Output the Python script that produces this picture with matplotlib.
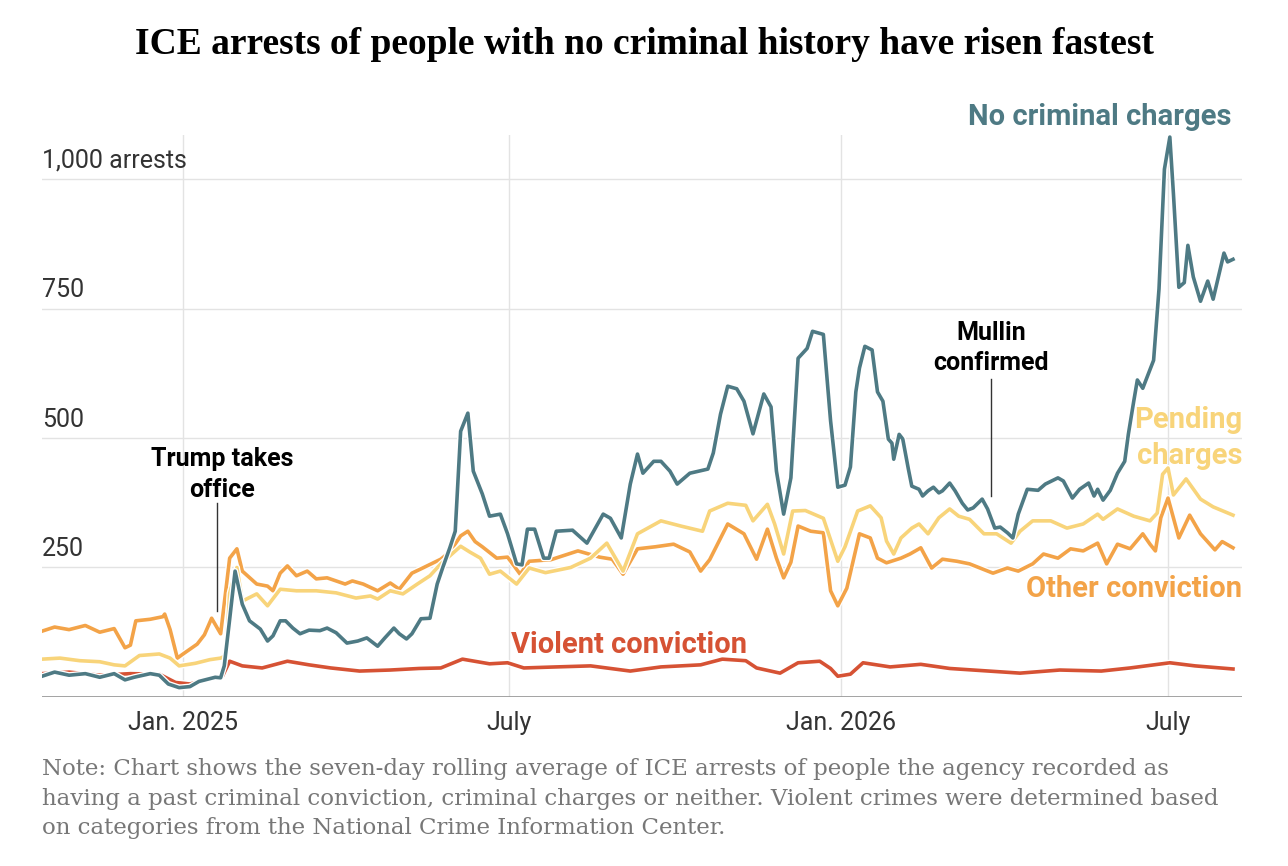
import pandas as pd
import matplotlib.pyplot as plt
import matplotlib.patheffects as pe

# days are counted from 2025-01-01
teal_day = [-78, -71, -63, -54, -46, -38, -32, -27, -18, -13, -8, -2, 4, 9, 18, 21, 23, 26, 29, 33,
            37, 43, 47, 50, 54, 57, 61, 65, 70, 76, 80, 85, 91, 97, 102, 108, 112, 117, 120, 124,
            127, 132, 137, 141, 144, 148, 151, 154, 158, 161, 166, 170, 176, 180, 185, 188, 191, 195, 200, 203,
            207, 216, 224, 233, 237, 243, 248, 252, 255, 261, 265, 270, 274, 281, 291, 294, 298, 302, 307, 311,
            316, 322, 326, 329, 333, 337, 341, 346, 349, 355, 359, 363, 367, 370, 373, 375, 378, 382, 385, 388,
            391, 393, 394, 397, 399, 402, 404, 408, 410, 413, 416, 419, 421, 425, 428, 432, 435, 438, 443, 446,
            450, 453, 457, 460, 463, 468, 474, 478, 485, 488, 493, 497, 502, 505, 507, 510, 514, 518, 522, 524,
            527, 529, 532, 538, 541, 544, 547, 549, 552, 555, 557, 560, 564, 568, 571, 577, 579, 582]
teal_val = [40, 48, 42, 45, 38, 45, 33, 38, 45, 42, 25, 18, 20, 30, 38, 37, 60, 150, 243, 179,
            147, 131, 108, 118, 147, 147, 133, 122, 129, 128, 133, 124, 104, 108, 114, 98, 114, 133, 122, 112,
            122, 151, 152, 218, 249, 288, 320, 513, 548, 436, 392, 349, 353, 315, 257, 255, 324, 324, 268, 268,
            320, 322, 297, 353, 345, 307, 411, 469, 432, 455, 455, 436, 411, 432, 440, 471, 546, 600, 595, 571,
            508, 585, 560, 436, 353, 423, 654, 673, 706, 700, 533, 405, 409, 444, 589, 635, 677, 670, 589, 571,
            498, 490, 459, 507, 498, 442, 407, 401, 388, 398, 405, 394, 398, 413, 398, 374, 361, 365, 382, 363,
            326, 328, 317, 307, 353, 401, 399, 411, 423, 417, 384, 401, 413, 388, 401, 380, 399, 432, 455, 507,
            571, 612, 596, 650, 788, 1019, 1081, 971, 791, 800, 872, 811, 764, 803, 768, 857, 840, 845]

orange_day = [-78, -71, -63, -54, -46, -38, -32, -29, -26, -18, -11, -10, -7, -3, 1, 8, 12, 16, 21, 26,
              30, 33, 41, 47, 50, 54, 58, 63, 69, 74, 80, 85, 90, 94, 100, 108, 115, 120, 127, 133,
              143, 148, 154, 158, 162, 166, 174, 180, 187, 192, 204, 219, 231, 238, 244, 252, 262, 272, 281, 287,
              292, 302, 311, 318, 324, 329, 333, 337, 341, 348, 355, 359, 363, 368, 375, 381, 385, 390, 398, 403,
              409, 415, 421, 429, 436, 449, 457, 463, 471, 477, 485, 492, 499, 507, 512, 518, 525, 532, 536, 539,
              542, 546, 552, 558, 564, 572, 576, 582]
orange_val = [127, 135, 130, 138, 125, 132, 95, 100, 147, 150, 155, 160, 130, 75, 85, 102, 120, 152, 122, 268,
              286, 243, 218, 214, 205, 239, 253, 234, 243, 228, 230, 224, 218, 224, 218, 205, 220, 208, 239, 249,
              266, 280, 311, 320, 300, 290, 268, 270, 237, 262, 265, 282, 270, 266, 237, 286, 290, 295, 280, 243,
              265, 334, 315, 266, 324, 268, 230, 260, 330, 320, 317, 205, 176, 210, 315, 307, 268, 259, 268, 276,
              288, 249, 266, 262, 257, 239, 249, 243, 257, 276, 268, 286, 282, 297, 257, 295, 286, 315, 295, 282,
              346, 384, 307, 351, 315, 284, 300, 288]

yellow_day = [-78, -68, -57, -46, -38, -32, -24, -13, -7, -2, 7, 15, 21, 24, 26, 30, 33, 41, 47, 54,
              63, 74, 85, 96, 104, 108, 115, 122, 130, 137, 143, 154, 159, 165, 170, 176, 185, 192, 201, 215,
              226, 235, 244, 252, 265, 276, 288, 292, 302, 312, 316, 324, 328, 333, 338, 345, 355, 363, 367, 374,
              381, 387, 390, 394, 398, 404, 408, 413, 419, 425, 430, 436, 444, 451, 459, 464, 471, 481, 490, 499,
              507, 510, 518, 527, 536, 540, 543, 546, 549, 556, 564, 571, 582]
yellow_val = [73, 75, 70, 68, 62, 60, 80, 83, 75, 60, 65, 72, 75, 80, 200, 250, 185, 199, 176, 208,
              205, 205, 201, 191, 195, 189, 205, 199, 218, 234, 257, 291, 280, 268, 237, 243, 218, 249, 240, 250,
              268, 297, 243, 315, 340, 330, 320, 359, 374, 370, 340, 372, 334, 276, 359, 360, 345, 262, 290, 359,
              369, 346, 301, 276, 307, 326, 334, 315, 346, 363, 349, 343, 315, 315, 297, 320, 340, 340, 326, 334,
              353, 343, 363, 349, 340, 355, 430, 442, 390, 421, 382, 367, 351]

red_day = [-78, -63, -46, -29, -13, -4, 4, 15, 22, 26, 33, 44, 58, 70, 82, 98, 115, 131, 143, 155,
           170, 180, 189, 207, 226, 248, 265, 287, 299, 312, 318, 331, 341, 353, 359, 363, 370, 377, 392, 409,
           425, 464, 486, 509, 525, 547, 561, 582]
red_val = [45, 48, 42, 45, 44, 28, 25, 35, 40, 69, 60, 56, 69, 62, 56, 50, 52, 55, 56, 73,
           64, 66, 56, 58, 60, 50, 58, 62, 73, 70, 56, 46, 66, 69, 55, 40, 44, 66, 58, 63,
           55, 46, 52, 50, 56, 66, 60, 54]

tick_dates = ["2025-01-01", "2025-07-01", "2026-01-01", "2026-07-01"]
tick_labels = ["Jan. 2025", "July", "Jan. 2026", "July"]
y_ticks = [250, 500, 750, 1000]
y_labels = ["250", "500", "750", "1,000 arrests"]

TEAL = "#4e7a84"
ORANGE = "#f3a348"
YELLOW = "#f8d47a"
RED = "#d65234"
SANS = ["Roboto", "DejaVu Sans"]

base = pd.Timestamp("2025-01-01")


def to_dates(days):
    return base + pd.to_timedelta(days, unit="D")


fig = plt.figure(figsize=(12.88, 8.66), dpi=100)
ax = fig.add_axes([0.0326, 0.1952, 0.9317, 0.6489])

halo = [pe.Stroke(linewidth=4.5, foreground="white"), pe.Normal()]
for days, vals, color in [(red_day, red_val, RED), (orange_day, orange_val, ORANGE),
                          (yellow_day, yellow_val, YELLOW), (teal_day, teal_val, TEAL)]:
    ax.plot(to_dates(days), vals, color=color, lw=2.6, solid_joinstyle="round",
            path_effects=halo, zorder=3)

ax.set_xlim(to_dates([-78])[0], to_dates([587])[0])
ax.set_ylim(0, 1085)

for v in y_ticks:
    ax.axhline(v, color="#e3e3e3", lw=1, zorder=1)
for d in tick_dates:
    ax.axvline(pd.Timestamp(d), color="#e3e3e3", lw=1, zorder=1)
ax.axhline(0, color="#9a9a9a", lw=2, zorder=4)

for sp in ax.spines.values():
    sp.set_visible(False)
ax.set_yticks([])
ax.set_xticks([pd.Timestamp(d) for d in tick_dates])
ax.set_xticklabels(tick_labels, fontsize=18, color="#333333", family=SANS)
ax.tick_params(axis="x", length=0, pad=10)

for v, lab in zip(y_ticks, y_labels):
    ax.annotate(lab, xy=(0, v), xycoords=("axes fraction", "data"), xytext=(0, 8),
                textcoords="offset points", ha="left", va="baseline", fontsize=18,
                color="#333333", family=SANS)

# series labels
ax.text(to_dates([581])[0], 1119, "No criminal charges", color=TEAL, fontsize=21,
        fontweight="bold", ha="right", va="center", family=SANS, clip_on=False)
ax.text(to_dates([587])[0], 500, "Pending\ncharges", color=YELLOW, fontsize=21,
        fontweight="bold", ha="right", va="center", family=SANS, linespacing=1.4, clip_on=False)
ax.text(to_dates([587])[0], 208, "Other conviction", color=ORANGE, fontsize=21,
        fontweight="bold", ha="right", va="center", family=SANS, clip_on=False)
ax.text(to_dates([182])[0], 100, "Violent conviction", color=RED, fontsize=21,
        fontweight="bold", ha="left", va="center", family=SANS)

# annotations
ax.plot(to_dates([19, 19]), [374, 166], color="#333333", lw=1, zorder=5)
ax.text(to_dates([22])[0], 430, "Trump takes\noffice", fontsize=18, fontweight="bold",
        ha="center", va="center", family=SANS, linespacing=1.35)
ax.plot(to_dates([448, 448]), [614, 388], color="#333333", lw=1, zorder=5)
ax.text(to_dates([448])[0], 674, "Mullin\nconfirmed", fontsize=18, fontweight="bold",
        ha="center", va="center", family=SANS, linespacing=1.35)

fig.text(0.5, 1 - 45 / 866, "ICE arrests of people with no criminal history have risen fastest",
         ha="center", va="center", fontsize=27, fontweight="bold", family="Liberation Serif")

note = ("Note: Chart shows the seven-day rolling average of ICE arrests of people the agency recorded as\n"
        "having a past criminal conviction, criminal charges or neither. Violent crimes were determined based\n"
        "on categories from the National Crime Information Center.")
fig.text(42 / 1288, 1 - 758 / 866, note, ha="left", va="top", fontsize=16.5, color="#777777",
         family="DejaVu Serif", linespacing=1.45)

fig.savefig("out.png", dpi=100)
